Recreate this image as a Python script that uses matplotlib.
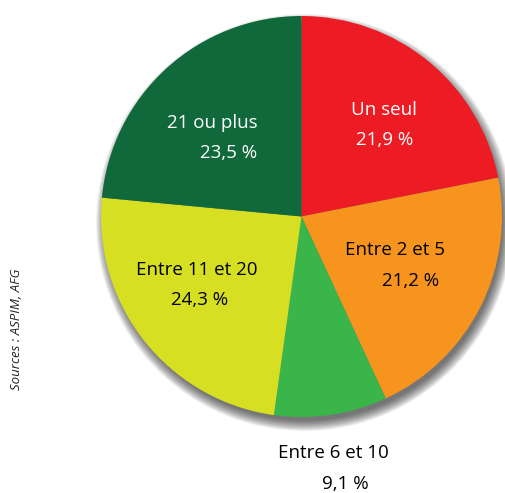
import matplotlib
matplotlib.use("Agg")
import matplotlib.pyplot as plt
from matplotlib.patches import Circle

W, H = 506, 493

categories = ["Un seul", "Entre 2 et 5", "Entre 6 et 10", "Entre 11 et 20", "21 ou plus"]
shares = [21.9, 21.2, 9.1, 24.3, 23.5]
share_labels = ["21,9 %", "21,2 %", "9,1 %", "24,3 %", "23,5 %"]
colors = ["#ED1C24", "#F7941D", "#39B54A", "#D7DF23", "#10693A"]

# label anchor positions in pixels (x, y from top), name line / value line
name_pos = [(384, 110), (395, 250), (333, 453), (197, 270), (212, 123)]
value_pos = [(385, 140), (411, 281), (345, 484), (200, 300), (229, 153)]
text_colors = ["white", "black", "black", "black", "white"]

cx, cy, r = 301.5, 216.5, 200.5

fig = plt.figure(figsize=(W / 100, H / 100), dpi=100)
ax = fig.add_axes([0, 0, 1, 1])

center = (cx, H - cy)

# soft drop shadow to the lower right
for k in range(14):
    ax.add_patch(Circle((center[0] + 3, center[1] - 6), r + 8 - k * 0.8,
                        color="black", alpha=0.05, lw=0, zorder=1))

ax.pie(shares, colors=colors, startangle=90, counterclock=False,
       center=center, radius=r, frame=True,
       wedgeprops=dict(linewidth=0, zorder=2))
ax.set_xlim(0, W)
ax.set_ylim(0, H)
ax.set_aspect("auto")
ax.axis("off")

font = ["Open Sans", "DejaVu Sans"]
for name, val, npos, vpos, tc in zip(categories, share_labels, name_pos, value_pos, text_colors):
    ax.text(npos[0], H - npos[1], name, color=tc, fontsize=13.5, family=font,
            ha="center", va="center", zorder=5)
    ax.text(vpos[0], H - vpos[1], val, color=tc, fontsize=13.5, family=font,
            ha="center", va="center", zorder=5)

ax.text(17, H - 329, "Sources : ASPIM, AFG", rotation=90, style="italic",
        fontsize=9.5, color="#222222", family=font, ha="center", va="center")

fig.savefig("out.png", dpi=100)
